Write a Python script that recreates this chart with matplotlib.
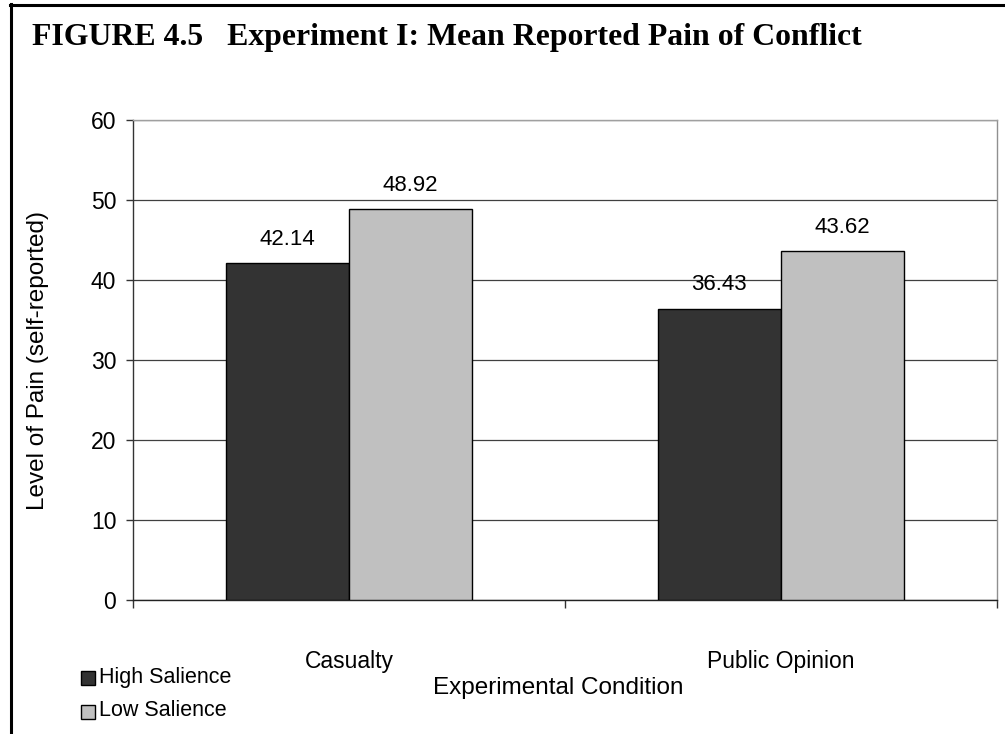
import matplotlib
matplotlib.use("Agg")
import matplotlib.pyplot as plt
from matplotlib.lines import Line2D
from matplotlib.patches import Rectangle
import numpy as np

categories = ["Casualty", "Public Opinion"]
series_names = ["High Salience", "Low Salience"]
high_salience = [42.14, 36.43]
low_salience = [48.92, 43.62]
y_ticks = [0, 10, 20, 30, 40, 50, 60]

W, H = 1005, 734
fig = plt.figure(figsize=(W / 100, H / 100), dpi=100)
fig.patch.set_facecolor("white")

def fx(px):
    return px / W

def fy(py):
    return 1 - py / H

SANS = "Liberation Sans"

# outer frame: top and left rules
fig.add_artist(Line2D([fx(10), 1.0], [fy(5), fy(5)], transform=fig.transFigure,
                      color="black", lw=2.2))
fig.add_artist(Line2D([fx(10.5), fx(10.5)], [0, fy(4)], transform=fig.transFigure,
                      color="black", lw=2.2))

fig.text(fx(32), fy(38), "FIGURE 4.5   Experiment I: Mean Reported Pain of Conflict",
         family="Liberation Serif", weight="bold", fontsize=22.9, va="center", ha="left")

left, right, top, bottom = 133, 997, 120, 600
ax = fig.add_axes([fx(left), fy(bottom), (right - left) / W, (bottom - top) / H])

bar_w = 1 / 3.5
centers = np.arange(len(categories)) + 0.5
colors = ["#333333", "#c0c0c0"]
for i, vals in enumerate([high_salience, low_salience]):
    xs = centers + (i - 0.5) * bar_w
    ax.bar(xs, vals, width=bar_w, color=colors[i], edgecolor="black", linewidth=1.0, zorder=3)
    for x, v in zip(xs, vals):
        ax.text(x, v + 2.95, f"{v:.2f}", ha="center", va="center",
                family=SANS, fontsize=16, zorder=4)

ax.set_xlim(0, len(categories))
ax.set_ylim(0, 60)
ax.set_yticks(y_ticks)
ax.set_yticklabels([str(t) for t in y_ticks], family=SANS, fontsize=16.5)
ax.yaxis.grid(True, color="#404040", lw=0.9, zorder=0)
ax.set_axisbelow(True)

ax.set_xticks(np.arange(len(categories) + 1))
ax.set_xticklabels([])
ax.set_xticks(centers, minor=True)
ax.set_xticklabels(categories, minor=True, family=SANS, fontsize=16.5)
ax.tick_params(axis="x", which="minor", length=0, pad=36)
ax.tick_params(axis="x", which="major", length=6, width=1, color="#333333", direction="out")
ax.tick_params(axis="y", length=5, width=1, color="#333333", direction="out", pad=7)

ax.spines["top"].set_color("#a0a0a0")
ax.spines["right"].set_color("#909090")
ax.spines["left"].set_color("#333333")
ax.spines["bottom"].set_color("#222222")
for s in ax.spines.values():
    s.set_linewidth(1.0)

fig.text(fx(558), fy(688), "Experimental Condition", ha="center", va="center",
         family=SANS, fontsize=17.5)
fig.text(fx(38), fy(360), "Level of Pain (self-reported)", ha="center", va="center",
         rotation=90, family=SANS, fontsize=17.5)

# legend: swatch + label rows at the lower left
rows_y = [677, 711]
for c, name, ry in zip(colors, series_names, rows_y):
    fig.add_artist(Rectangle((fx(81), fy(ry + 8)), 14 / W, 14 / H, transform=fig.transFigure,
                             facecolor=c, edgecolor="black", linewidth=1.0))
    fig.text(fx(99), fy(ry), name, ha="left", va="center", family=SANS, fontsize=15.5)

fig.savefig("out.png", dpi=100, facecolor="white")
